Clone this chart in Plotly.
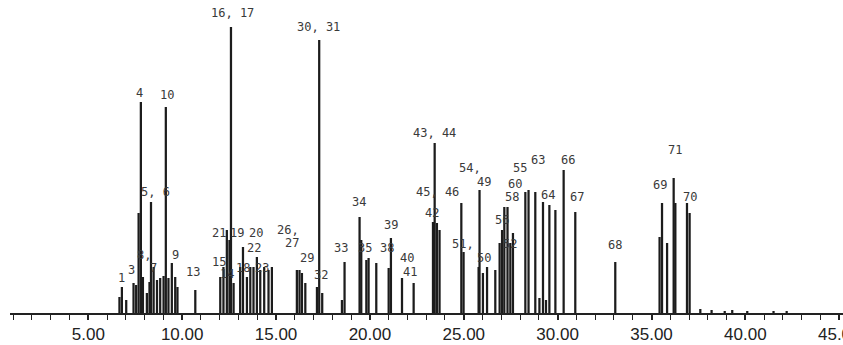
import plotly.graph_objects as go

# ---- data (retention time in min, peak height in relative units) ----
rt = [6.66, 6.79, 7.02, 7.41, 7.55, 7.68, 7.80, 7.91, 8.12, 8.26, 8.34, 8.48, 8.66, 8.83,
      9.01, 9.13, 9.27, 9.45, 9.63, 9.75, 10.70,
      12.03, 12.20, 12.38, 12.52, 12.60, 12.74, 13.09, 13.24, 13.45, 13.63, 13.80, 13.98,
      14.16, 14.37, 14.60, 14.78,
      16.11, 16.25, 16.38, 16.56, 17.18, 17.30, 17.46,
      18.51, 18.65, 19.45, 19.54, 19.81, 19.93, 20.34, 21.00, 21.12, 21.71, 22.33,
      23.36, 23.45, 23.57, 23.71, 24.87, 24.99, 25.79, 25.84, 26.02, 26.24, 26.68,
      26.91, 27.04, 27.16, 27.33, 27.48, 27.62,
      28.28, 28.45, 28.81, 29.03, 29.22, 29.38, 29.56, 29.88, 30.32, 30.94,
      33.07, 35.43, 35.56, 35.83, 36.18, 36.27, 36.89, 37.03,
      37.6, 38.2, 38.9, 39.3, 40.1, 41.5, 42.2]
abundance = [16, 26, 13, 30, 28, 100, 211, 36, 20, 31, 111, 46, 33, 35,
             37, 206, 35, 50, 36, 26, 23,
             36, 46, 83, 73, 286, 30, 46, 66, 36, 46, 46, 56,
             43, 46, 43, 46,
             43, 43, 40, 30, 26, 273, 20,
             13, 51, 96, 73, 53, 55, 50, 45, 75, 35, 30,
             91, 170, 90, 83, 110, 61, 46, 123, 40, 46, 43,
             70, 83, 106, 106, 70, 80,
             121, 123, 121, 15, 111, 13, 108, 103, 143, 101,
             51, 76, 110, 70, 135, 110, 110, 100,
             4, 3, 2, 3, 2, 2, 2]

tick_minutes = [5, 10, 15, 20, 25, 30, 35, 40, 45]
tick_labels = ["5.00", "10.00", "15.00", "20.00", "25.00", "30.00", "35.00", "40.00", "45.00"]

peak_names = ["1", "3", "8,", "7", "4", "10", "5, 6", "9", "13", "15", "14", "16, 17",
              "21", "19", "20", "26,", "27", "22", "18", "23", "29", "30, 31", "32",
              "33", "35", "34", "39", "38", "40", "41", "43, 44", "45, 46", "42",
              "51,", "50", "54,", "55", "49", "60", "58", "56", "52",
              "63", "66", "64", "67", "68", "69", "70", "71"]

# ---- label placement (layout) ----
label_pos = [(6.75, 35), (7.29, 43), (7.98, 58), (8.45, 45), (7.71, 220), (9.20, 218),
             (8.57, 121), (9.63, 58), (10.59, 41), (11.97, 51), (12.40, 39), (12.67, 300),
             (11.95, 80), (12.93, 80), (13.95, 80), (15.65, 83), (15.86, 70), (13.84, 65),
             (13.25, 45), (14.27, 45), (16.66, 55), (17.25, 286), (17.41, 38),
             (18.47, 65), (19.75, 65), (19.43, 111), (21.14, 88), (20.93, 65), (21.99, 55),
             (22.15, 41), (23.43, 180), (23.59, 121), (23.32, 100),
             (24.97, 69), (26.09, 55), (25.35, 145), (28.01, 145), (26.09, 131),
             (27.74, 129), (27.58, 116), (27.05, 93), (27.48, 69),
             (28.97, 153), (30.57, 153), (29.50, 118), (31.05, 116), (33.07, 68),
             (35.47, 128), (37.07, 116), (36.27, 163)]

fig = go.Figure()
fig.add_trace(go.Bar(x=rt, y=abundance, width=0.12,
                     marker=dict(color="#1c1c1c", line=dict(width=0)),
                     hoverinfo="x+y"))

annotations = []
for name, (px, py) in zip(peak_names, label_pos):
    annotations.append(dict(x=px, y=py, xref="x", yref="y", text=name, showarrow=False,
                            xanchor="center", yanchor="middle",
                            font=dict(family="DejaVu Sans Mono", size=12, color="#3a3a3a")))

fig.update_layout(
    width=843, height=345,
    margin=dict(l=10, r=0, t=0, b=32, autoexpand=False),
    paper_bgcolor="white", plot_bgcolor="white",
    showlegend=False,
    annotations=annotations,
    xaxis=dict(range=[0.83, 45.2], showgrid=False, zeroline=False, automargin=False,
               showline=True, linecolor="#222", linewidth=2,
               tickmode="array", tickvals=tick_minutes, ticktext=tick_labels,
               ticks="outside", ticklen=5, tickwidth=1.5, tickcolor="#222",
               ticklabeloverflow="allow",
               tickfont=dict(family="Liberation Sans Narrow, Arial Narrow, Liberation Sans, Arial",
                             size=17, color="#222"),
               minor=dict(dtick=1, tick0=0, ticks="outside", ticklen=5, tickwidth=1.2,
                          tickcolor="#222", showgrid=False)),
    yaxis=dict(range=[0, 313], visible=False, fixedrange=True, automargin=False),
)

fig.write_html("out.html")
